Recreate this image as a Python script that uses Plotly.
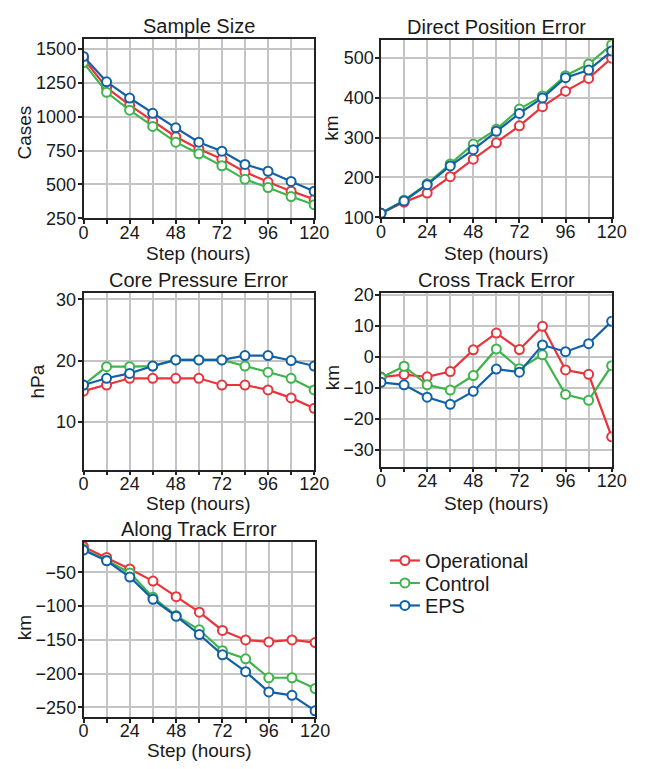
import plotly.graph_objects as go

steps = [0, 12, 24, 36, 48, 60, 72, 84, 96, 108, 120]
series_names = ["Operational", "Control", "EPS"]
colors = ["#e8343c", "#3db54b", "#1161a9"]

sample_size = {
    "Operational": [1430, 1214, 1085, 968, 852, 762, 687, 592, 517, 450, 390],
    "Control": [1400, 1180, 1048, 928, 812, 726, 637, 537, 477, 410, 350],
    "EPS": [1445, 1258, 1138, 1025, 918, 812, 745, 647, 597, 522, 450],
}
direct_error = {
    "Operational": [110, 138, 161, 202, 246, 287, 330, 378, 417, 449, 500],
    "Control": [110, 143, 184, 234, 284, 321, 372, 405, 456, 485, 534],
    "EPS": [110, 141, 182, 229, 270, 316, 361, 400, 451, 470, 518],
}
pressure_error = {
    "Operational": [15.0, 16.0, 17.1, 17.1, 17.1, 17.1, 16.0, 16.0, 15.2, 13.9, 12.2],
    "Control": [16.0, 19.0, 19.0, 19.1, 20.1, 20.1, 20.1, 19.1, 18.1, 17.1, 15.2],
    "EPS": [16.0, 17.1, 17.9, 19.1, 20.1, 20.1, 20.1, 20.8, 20.8, 20.0, 19.1],
}
cross_error = {
    "Operational": [-6.6, -5.8, -6.5, -4.8, 2.2, 7.6, 2.3, 9.8, -4.3, -5.7, -25.9],
    "Control": [-6.8, -3.1, -9.1, -10.8, -6.1, 2.5, -3.9, 0.6, -12.2, -14.1, -2.9],
    "EPS": [-8.3, -9.1, -13.1, -15.4, -11.2, -4.0, -5.0, 3.8, 1.6, 4.2, 11.4],
}
along_error = {
    "Operational": [-12, -28, -45, -63, -86, -109, -136, -150, -153, -150, -154],
    "Control": [-16, -32, -51, -87, -114, -135, -166, -178, -206, -206, -222],
    "EPS": [-17, -33, -57, -90, -115, -142, -172, -197, -227, -232, -255],
}

x_tickvals = steps
x_ticktext = ["0", "", "24", "", "48", "", "72", "", "96", "", "120"]
x_title = "Step (hours)"

panels = [
    dict(data=sample_size, title="Sample Size", ytitle="Cases",
         yrange=[250, 1572], ytick=[250, 500, 750, 1000, 1250, 1500],
         xdom=[81, 319], ydom=[33, 216], xt_y=252, yt=(20, 128)),
    dict(data=direct_error, title="Direct Position Error", ytitle="km",
         yrange=[100, 545], ytick=[100, 200, 300, 400, 500],
         xdom=[388, 626], ydom=[34, 215], xt_y=252, yt=(337, 124)),
    dict(data=pressure_error, title="Core Pressure Error", ytitle="hPa",
         yrange=[2.2, 31.1], ytick=[10, 20, 30],
         xdom=[81, 319], ydom=[292, 473], xt_y=508, yt=(34, 383)),
    dict(data=cross_error, title="Cross Track Error", ytitle="km",
         yrange=[-35.5, 20.7], ytick=[-30, -20, -10, 0, 10, 20],
         xdom=[388, 626], ydom=[292, 470], xt_y=508, yt=(338, 379)),
    dict(data=along_error, title="Along Track Error", ytitle="km",
         yrange=[-264, -5], ytick=[-250, -200, -150, -100, -50],
         xdom=[81, 320], ydom=[547, 726], xt_y=760, yt=(21, 635)),
]

W, H = 648, 769
FONT = "Liberation Sans, Arial"
TXT = "#1a1a1a"

fig = go.Figure()
layout = dict(
    width=W, height=H,
    margin=dict(l=0, r=0, t=0, b=0),
    paper_bgcolor="white", plot_bgcolor="white",
    showlegend=True,
    font=dict(family=FONT, color=TXT, size=16),
)
annotations = []
legend_names = ["legend", "legend2", "legend3"]
legend_y = [566, 589, 612]

for i, p in enumerate(panels):
    n = i + 1
    xa = "x" if n == 1 else f"x{n}"
    ya = "y" if n == 1 else f"y{n}"
    for k, (name, col) in enumerate(zip(series_names, colors)):
        fig.add_trace(go.Scatter(
            x=steps, y=p["data"][name], mode="lines+markers", name=name,
            line=dict(color=col, width=2.2),
            marker=dict(symbol="circle", size=9, color="white",
                        line=dict(color=col, width=2)),
            xaxis=xa, yaxis=ya, showlegend=(n == 1),
            legend=legend_names[k],
        ))
    xd = [p["xdom"][0] / W, p["xdom"][1] / W]
    yd = [1 - p["ydom"][1] / H, 1 - p["ydom"][0] / H]
    common = dict(showline=True, linecolor="#222222", linewidth=1.5, mirror=True,
                  showgrid=True, gridcolor="#c4c4c4", gridwidth=1.5,
                  ticks="outside", ticklen=4, tickcolor="#222222", tickwidth=1.5,
                  zeroline=False, tickfont=dict(family=FONT, size=18, color=TXT))
    layout["xaxis" if n == 1 else f"xaxis{n}"] = dict(
        domain=xd, anchor=ya, range=[0, 120], tickvals=x_tickvals, ticktext=x_ticktext,
        ticklabelstandoff=-7, **common)
    layout["yaxis" if n == 1 else f"yaxis{n}"] = dict(
        domain=yd, anchor=xa, range=p["yrange"], tickvals=p["ytick"],
        ticklabelstandoff=-2, **common)
    annotations.append(dict(
        text=p["title"], x=(xd[0] + xd[1]) / 2, y=yd[1], xref="paper", yref="paper",
        xanchor="center", yanchor="bottom", yshift=0, showarrow=False,
        font=dict(family=FONT, size=20, color=TXT)))
    annotations.append(dict(
        text=x_title, x=(xd[0] + xd[1]) / 2, y=1 - p["xt_y"] / H, xref="paper", yref="paper",
        xanchor="center", yanchor="middle", showarrow=False,
        font=dict(family=FONT, size=19, color=TXT)))
    annotations.append(dict(
        text=p["ytitle"], x=p["yt"][0] / W, y=1 - p["yt"][1] / H, xref="paper", yref="paper",
        xanchor="center", yanchor="middle", textangle=-90, showarrow=False,
        font=dict(family=FONT, size=19, color=TXT)))

layout["annotations"] = annotations
for k, ln in enumerate(legend_names):
    layout[ln] = dict(x=392 / W, y=1 - legend_y[k] / H, xanchor="left", yanchor="middle",
                      font=dict(family=FONT, size=20, color=TXT),
                      bgcolor="rgba(0,0,0,0)", itemwidth=30)
fig.update_layout(**layout)
fig.write_html("out.html")
